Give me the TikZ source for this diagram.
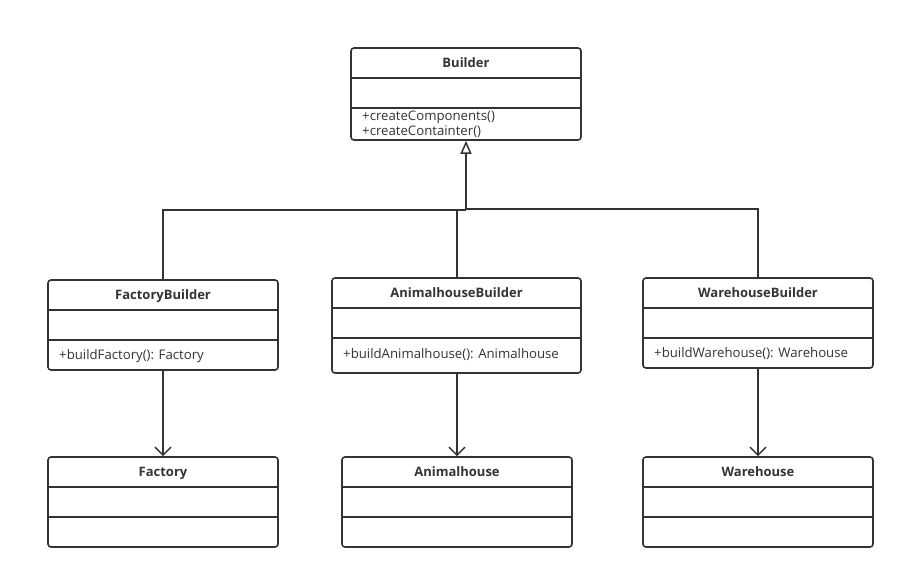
\documentclass[tikz,border=0pt]{standalone}
\usepackage{fontspec}
\setmainfont{Open Sans}
\usetikzlibrary{arrows.meta}
\definecolor{ink}{HTML}{333333}
\begin{document}
\begin{tikzpicture}[x=1pt,y=-1pt,
  cls/.style={draw=ink, line width=1.6pt, rounded corners=3pt, inner sep=0pt},
  divider/.style={draw=ink, line width=1.6pt},
  ttl/.style={font=\fontsize{13}{15}\selectfont\bfseries, text=ink, inner sep=0pt, text height=9.5pt, text depth=3pt, yshift=-1pt},
  mth/.style={font=\fontsize{13.2}{15}\selectfont, text=ink, inner sep=0pt, anchor=west, text height=9.5pt, text depth=3pt, yshift=-1pt},
  conn/.style={draw=ink, line width=1.5pt},
  gen/.style={conn, -{Triangle[open, length=13pt, width=11pt, line width=1.5pt]}},
  dep/.style={conn, -{Straight Barb[length=8pt, width=16pt, line width=1.5pt]}}]
\useasboundingbox (0,0) rectangle (905,579);
% Builder
\node[cls, minimum width=230, minimum height=92] (b) at (466,94) {};
\draw[divider] (351,78) -- (581,78);
\draw[divider] (351,108) -- (581,108);
\node[ttl] (bt) at (466,63) {Builder};
\node[mth] (bm1) at (362,116.5) {+createComponents()};
\node[mth] (bm2) at (362,131.5) {+createContainter()};
% FactoryBuilder
\node[cls, minimum width=230, minimum height=90] (fb) at (163,325) {};
\draw[divider] (48,310) -- (278,310);
\draw[divider] (48,340) -- (278,340);
\node[ttl] (fbt) at (163,295) {FactoryBuilder};
\node[mth] (fbm) at (59,355) {+buildFactory(): Factory};
% AnimalhouseBuilder
\node[cls, minimum width=249, minimum height=95] (ab) at (456.5,325.5) {};
\draw[divider] (332,308) -- (581,308);
\draw[divider] (332,338) -- (581,338);
\node[ttl] (abt) at (456.5,293) {AnimalhouseBuilder};
\node[mth] (abm) at (343,354) {+buildAnimalhouse(): Animalhouse};
% WarehouseBuilder
\node[cls, minimum width=230, minimum height=90] (wb) at (758,323) {};
\draw[divider] (643,308) -- (873,308);
\draw[divider] (643,338) -- (873,338);
\node[ttl] (wbt) at (758,293) {WarehouseBuilder};
\node[mth] (wbm) at (654,353) {+buildWarehouse(): Warehouse};
% Factory
\node[cls, minimum width=230, minimum height=90] (f) at (163,502) {};
\draw[divider] (48,487) -- (278,487);
\draw[divider] (48,517) -- (278,517);
\node[ttl] (ft) at (163,472) {Factory};
% Animalhouse
\node[cls, minimum width=230, minimum height=90] (a) at (457,502) {};
\draw[divider] (342,487) -- (572,487);
\draw[divider] (342,517) -- (572,517);
\node[ttl] (at) at (457,472) {Animalhouse};
% Warehouse
\node[cls, minimum width=230, minimum height=90] (w) at (758,502) {};
\draw[divider] (643,487) -- (873,487);
\draw[divider] (643,517) -- (873,517);
\node[ttl] (wt) at (758,472) {Warehouse};
% generalization
\coordinate (j) at (466,210);
\draw[conn] (fb.north) -- (163,210) -- (j);
\draw[conn] (ab.north -| 457,0) -- (457,210) -- (j);
\draw[conn] (wb.north) -- (758,209) -- (466,209);
\draw[gen] (j) -- (b.south);
% dependencies
\draw[dep] (fb.south) -- (f.north);
\draw[dep] (ab.south -| 457,0) -- (a.north);
\draw[dep] (wb.south) -- (w.north);
\end{tikzpicture}
\end{document}
